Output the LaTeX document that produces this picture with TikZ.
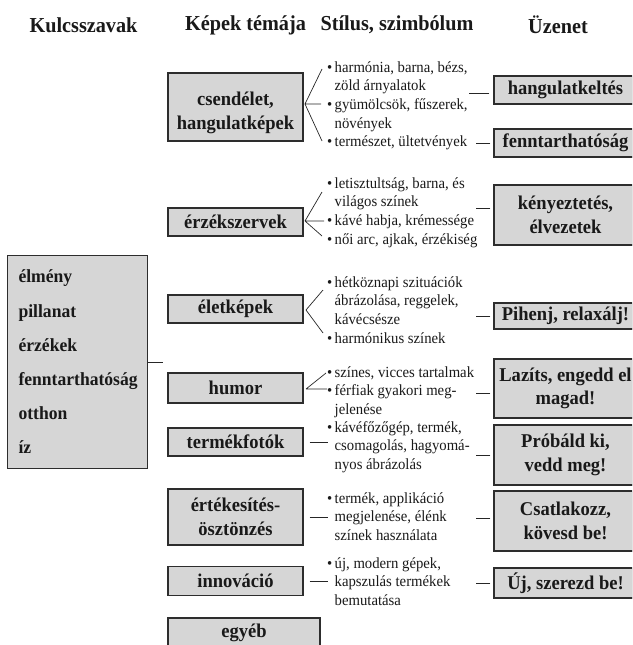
\documentclass[tikz,border=0pt]{standalone}
\usepackage{fontspec}
\setmainfont[FakeStretch=0.95]{Liberation Serif}
\usepackage{tikz}
\usetikzlibrary{shadows}
\definecolor{dobozszurke}{RGB}{214, 214, 214}
\definecolor{keret}{RGB}{45, 45, 45}
\tikzset{
	doboz/.style={draw=keret, line width=1.1pt, fill=dobozszurke, inner sep=0pt, align=center, text=black!90,
		font=\bfseries\fontsize{19.5}{23.5}\selectfont,
		drop shadow={shadow xshift=0.9pt, shadow yshift=-0.9pt, fill=keret, opacity=1}},
	fej/.style={font=\bfseries\fontsize{21.3}{25}\selectfont, text=black!90},
	felsor/.style={anchor=north west, inner sep=0pt, align=left, text=black!90, font=\fontsize{15.5}{18.6}\selectfont},
	vonal/.style={line width=0.8pt, draw=black!85}
}
\newcommand{\elso}{\rule{0pt}{15pt}}% fixed height of the first line
\newcommand{\pont}{\makebox[7.5pt][l]{\textbullet}}% bullet
\newcommand{\tovabb}{\hspace*{7.5pt}}% continued line

\begin{document}
\begin{tikzpicture}[x=1pt, y=-1pt]
			\useasboundingbox (0,0) rectangle (632,645);
			\clip (0,0) rectangle (632,645);

			% fejlec
			\node[fej] (h-kulcs) at (83.5,25) {Kulcsszavak};
			\node[fej] (h-kep) at (245.5,25) {Képek témája};
			\node[fej] (h-stil) at (397,25) {Stílus, szimbólum};
			\node[fej] (h-uzen) at (558,25) {Üzenet};

			\node[doboz, anchor=north west, minimum width=140pt, minimum height=213pt, align=left, text width=118pt,
				font=\bfseries\fontsize{18.5}{34.2}\selectfont] (kulcs) at (7,255)
				{élmény\\pillanat\\érzékek\\fenntarthatóság\\otthon\\íz};
			\draw[vonal] (kulcs.east) -- ++(15,0);

			% kepek temaja
			\node[doboz, minimum width=135pt, minimum height=68pt] (csend) at (235.5,107) {\rule{0pt}{25pt}csendélet,\\hangulatképek};
			\node[doboz, minimum width=135pt, minimum height=28pt] (erzek) at (235.5,222) {érzékszervek};
			\node[doboz, minimum width=135pt, minimum height=28pt] (elet) at (235.5,309) {életképek};
			\node[doboz, minimum width=135pt, minimum height=30pt] (humor) at (235.5,388) {humor};
			\node[doboz, minimum width=135pt, minimum height=28pt] (termek) at (235.5,442) {termékfotók};
			\node[doboz, minimum width=135pt, minimum height=56pt] (ertek) at (235.5,517) {értékesítés-\\ösztönzés};
			\node[doboz, minimum width=135pt, minimum height=29pt] (innov) at (235.5,581) {innováció};
			\node[doboz, minimum width=152pt, minimum height=30pt] (egyeb) at (244,633) {egyéb};

			% stilus, szimbolum
			\node[felsor] (csend-s) at (327,57) {\elso\pont harmónia, barna, bézs,\\\tovabb zöld árnyalatok\\\pont gyümölcsök, fűszerek,\\\tovabb növények\\\pont természet, ültetvények};
			\node[felsor] (erzek-s) at (327,173) {\elso\pont letisztultság, barna, és\\\tovabb világos színek\\\pont kávé habja, krémessége\\\pont női arc, ajkak, érzékiség};
			\node[felsor] (elet-s) at (327,272) {\elso\pont hétköznapi szituációk\\\tovabb ábrázolása, reggelek,\\\tovabb kávécsésze\\\pont harmónikus színek};
			\node[felsor] (humor-s) at (327,362) {\elso\pont színes, vicces tartalmak\\\pont férfiak gyakori meg-\\\tovabb jelenése};
			\node[felsor] (termek-s) at (327,417) {\elso\pont kávéfőzőgép, termék,\\\tovabb csomagolás, hagyomá-\\\tovabb nyos ábrázolás};
			\node[felsor] (ertek-s) at (327,488) {\elso\pont termék, applikáció\\\tovabb megjelenése, élénk\\\tovabb színek használata};
			\node[felsor] (innov-s) at (327,553) {\elso\pont új, modern gépek,\\\tovabb kapszulás termékek\\\tovabb bemutatása};

			\coordinate (csend-c) at (305,104);
			\coordinate (erzek-c) at (305,221);
			\coordinate (elet-c) at (306,310);
			\coordinate (humor-c) at (306,389);
			\draw[vonal, line width=0.7pt] (csend-c) -- ++(17,-35) (csend-c) -- ++(16,0) (csend-c) -- ++(17,37);
			\draw[vonal, line width=0.7pt] (erzek-c) -- ++(17,-29) (erzek-c) -- ++(19,0) (erzek-c) -- ++(17,15);
			\draw[vonal, line width=0.7pt] (elet-c) -- ++(17,-20) (elet-c) -- ++(17,23);
			\draw[vonal, line width=0.7pt] (humor-c) -- ++(20,-16) (humor-c) -- ++(21,0);
			\draw[vonal, shorten <=6pt] (termek.east) -- ++(24,0);
			\draw[vonal, shorten <=6pt] (ertek.east) -- ++(24,0);
			\draw[vonal, shorten <=6pt] (innov.east) -- ++(24,0);

			% uzenet
			\node[doboz, minimum width=143pt, minimum height=28pt] (hangul) at (565.5,90) {hangulatkeltés};
			\node[doboz, minimum width=143pt, minimum height=28pt] (fennt) at (565.5,143) {fenntarthatóság};
			\node[doboz, minimum width=143pt, minimum height=60pt] (kenyez) at (565.5,215) {kényeztetés,\\élvezetek};
			\node[doboz, minimum width=143pt, minimum height=26pt] (pihenj) at (565.5,316) {Pihenj, relaxálj!};
			\node[doboz, minimum width=143pt, minimum height=59pt] (lazits) at (565.5,388.5) {Lazíts, engedd el\\magad!};
			\node[doboz, minimum width=143pt, minimum height=60pt] (probald) at (565.5,455) {Próbáld ki,\\vedd meg!};
			\node[doboz, minimum width=143pt, minimum height=60pt] (csatl) at (565.5,521) {Csatlakozz,\\kövesd be!};
			\node[doboz, minimum width=143pt, minimum height=30pt] (uj) at (565.5,583) {Új, szerezd be!};

			\draw[vonal, shorten <=4pt] ([yshift=-3pt]hangul.west) -- ++(-24,0);
			\draw[vonal, shorten <=3pt] (fennt.west) -- ++(-17,0);
			\draw[vonal, shorten <=3pt] ([yshift=7pt]kenyez.west) -- ++(-17,0);
			\draw[vonal, shorten <=3pt] (pihenj.west) -- ++(-17,0);
			\draw[vonal, shorten <=3pt] ([yshift=-5pt]lazits.west) -- ++(-17,0);
			\draw[vonal, shorten <=3pt] (probald.west) -- ++(-17,0);
			\draw[vonal, shorten <=3pt] ([yshift=3pt]csatl.west) -- ++(-17,0);
			\draw[vonal, shorten <=3pt] (uj.west) -- ++(-17,0);
\end{tikzpicture}
\end{document}
